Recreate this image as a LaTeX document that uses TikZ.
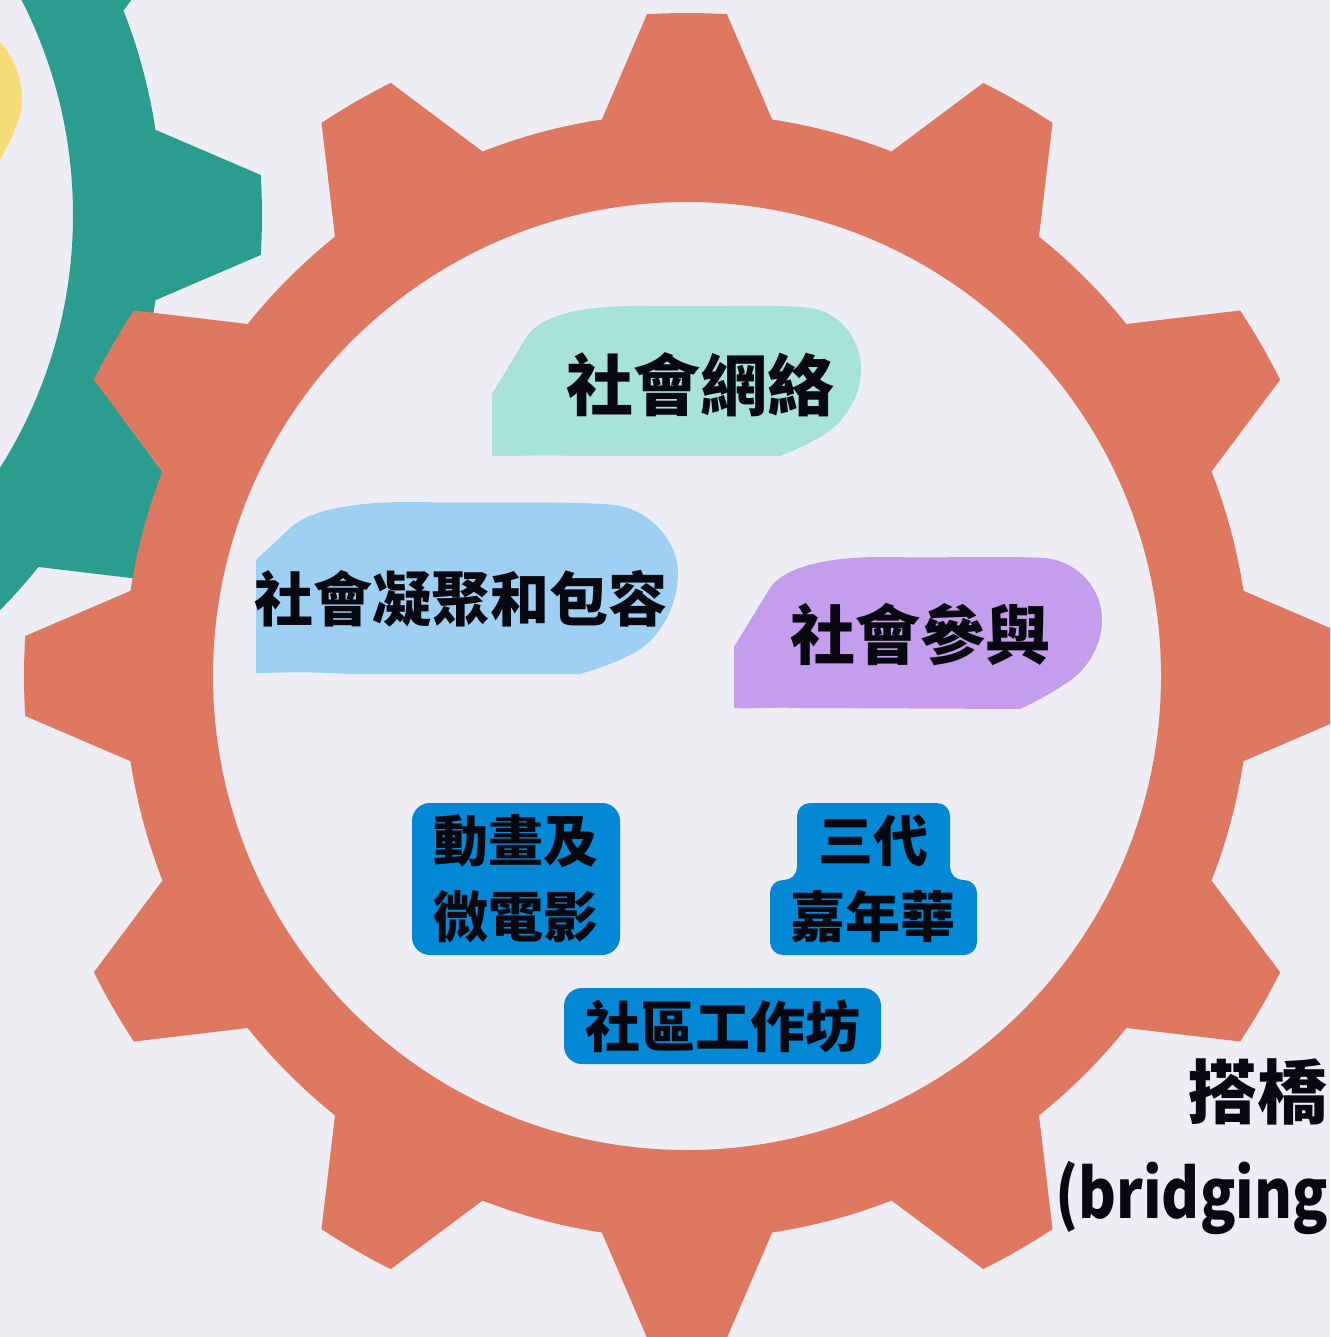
\documentclass[tikz,border=0pt]{standalone}
\usepackage{fontspec}
\usepackage{graphicx}
\newfontfamily\cjk{Noto Sans CJK TC}
\definecolor{bgc}{RGB}{238,237,244}
\definecolor{gearor}{RGB}{223,120,97}
\definecolor{gearteal}{RGB}{43,157,142}
\definecolor{yel}{RGB}{246,220,118}
\definecolor{mint}{RGB}{168,227,217}
\definecolor{lblue}{RGB}{157,208,242}
\definecolor{purp}{RGB}{196,158,236}
\definecolor{boxblue}{RGB}{2,136,212}
\definecolor{ink}{RGB}{8,8,16}
\newcommand\gearpath{%
 (-8.7:563pt) \foreach \k in {0,...,11}{ -- ({\k*30-3.46}:663pt) arc[start angle={\k*30-3.46}, end angle={\k*30+3.46}, radius=663pt] -- ({\k*30+8.7}:563pt) arc[start angle={\k*30+8.7}, end angle={\k*30+21.3}, radius=563pt] } -- cycle (0,0) circle[radius=474pt]}
\begin{document}
\begin{tikzpicture}[x=1pt,y=-1pt,
  blobtext/.style={text=ink, inner sep=0pt},
  boxst/.style={fill=boxblue, rounded corners=18pt, inner sep=0pt, text=ink, align=center, font=\cjk\bfseries\fontsize{55}{76}\selectfont}]
\useasboundingbox (0,0) rectangle (1330,1337);
\fill[bgc] (0,0) rectangle (1330,1337);
\begin{scope}
\clip (0,0) rectangle (1330,1337);
\fill[yel] (-10,38) -- (0,42) .. controls (12,55) and (22,75) .. (22,100) .. controls (22,118) and (12,138) .. (0,160) -- (-10,160) -- cycle;
\fill[gearteal, even odd rule, shift={(-401,215)}] \gearpath;
\fill[gearor, even odd rule, shift={(687,676)}] \gearpath;
\end{scope}
% blobs
\fill[mint] (492,456) -- (492,394) -- (527,336) .. controls (545,312) and (590,305) .. (650,306) .. controls (720,307) and (780,304) .. (810,308) .. controls (840,312) and (862,340) .. (861,372) .. controls (860,400) and (842,424) .. (822,436) .. controls (805,446) and (790,452) .. (780,456) -- (570,456) .. controls (540,454) and (510,457) .. (492,456) -- cycle;
\fill[lblue] (256,673) -- (256,560) -- (288,530) .. controls (305,512) and (345,503) .. (400,502) .. controls (480,503) and (580,501) .. (615,505) .. controls (650,510) and (677,540) .. (678,572) .. controls (678,605) and (662,633) .. (642,648) .. controls (622,661) and (597,669) .. (580,674) -- (350,674) .. controls (300,671) and (275,673) .. (256,673) -- cycle;
\fill[purp] (734,708) -- (734,647) -- (770,588) .. controls (785,566) and (830,557) .. (880,557) .. controls (950,558) and (1010,556) .. (1045,558) .. controls (1080,562) and (1102,590) .. (1102,620) .. controls (1102,648) and (1085,672) .. (1065,684) .. controls (1050,694) and (1035,702) .. (1020,709) -- (800,708) .. controls (770,707) and (750,709) .. (734,708) -- cycle;
\node[blobtext, font=\cjk\bfseries\fontsize{67}{70}\selectfont] (n1) at (700,385) {社會網絡};
\node[blobtext, font=\cjk\bfseries\fontsize{59}{62}\selectfont] (n2) at (461,599) {社會凝聚和包容};
\node[blobtext, font=\cjk\bfseries\fontsize{65}{68}\selectfont] (n3) at (920,634) {社會參與};
% boxes
\node[boxst, minimum width=208pt, minimum height=152pt] (b1) at (516,879) {動畫及\\微電影};
\fill[boxblue, rounded corners=13pt] (797,803) -- (950,803) -- (950,880) -- (977,880) -- (977,955) -- (770,955) -- (770,880) -- (797,880) -- cycle;
\node[boxst, fill=none] (b2) at (873,879) {三代\\嘉年華};
\node[boxst, minimum width=317pt, minimum height=76pt] (b3) at (722.5,1026) {社區工作坊};
% bottom right
\node[anchor=west, inner sep=0pt, text=ink, font=\cjk\bfseries\fontsize{70}{74}\selectfont] (t1) at (1187,1092) {搭橋};
\node[anchor=base east, inner sep=0pt, text=ink, font=\cjk\bfseries\fontsize{68}{80}\selectfont] (t2) at (1328,1218) {\scalebox{0.85}[1]{(bridging}};
\end{tikzpicture}
\end{document}
